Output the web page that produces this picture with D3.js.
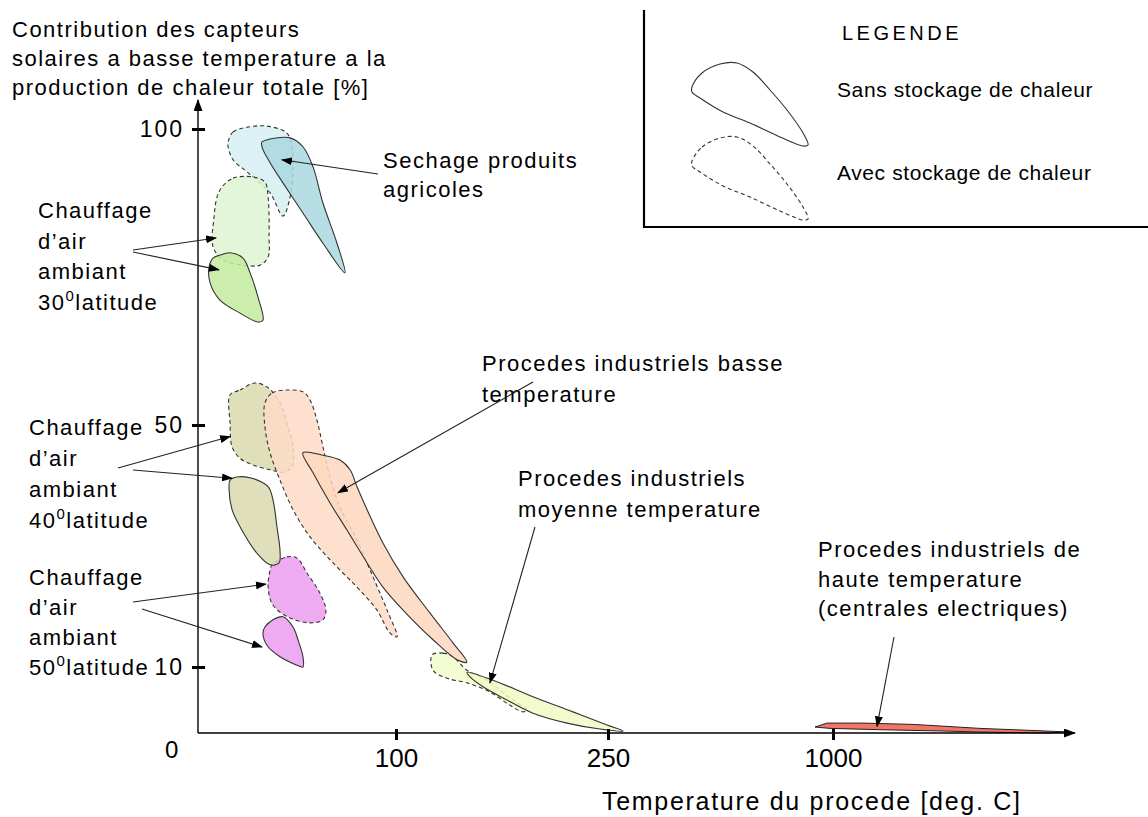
<!DOCTYPE html>
<html>
<head>
<meta charset="utf-8">
<script src="https://cdn.jsdelivr.net/npm/d3@7"></script>
<style>
    body { margin: 0; background: #fff; }
    text { font-family: "Liberation Sans", Arial, sans-serif; fill: #000; }
</style>
</head>
<body>
<div id="chart"></div>
<script>
var svgWidth = 1148;
var svgHeight = 817;

// the axes are not linear: every segment between breaks has its own stretch
var xBreaks = [0, 100, 250, 1000, 2000];
var yBreaks = [0, 10, 50, 100, 105];
var xTicks = [100, 250, 1000];
var yTicks = [10, 50, 100];

// zones: [temperature deg C, contribution %]
var sechageAvec = [[15.2,97.8],[17.7,99.5],[24.7,100.3],[34.8,100.5],[44.9,99.3],[47.5,97.0],[48.0,93.1],[46.5,88.5],[42.9,85.3],[36.4,89.2],[25.3,92.6],[17.7,94.8],[15.2,97.0]];
var sechageSans = [[32.3,97.8],[36.4,98.3],[46.5,98.5],[53.0,97.0],[58.1,93.6],[63.1,87.5],[70.2,80.7],[74.2,75.7],[63.1,80.7],[53.0,85.8],[42.9,90.9],[36.4,94.3],[32.3,97.0]];
var air30Avec = [[12.1,90.2],[17.7,91.7],[27.8,91.9],[33.8,91.0],[35.4,88.5],[35.9,81.8],[35.4,78.4],[31.3,77.0],[22.7,77.0],[12.6,77.9],[7.6,80.1],[8.1,85.1],[9.6,88.5]];
var air30Sans = [[11.1,78.7],[16.2,79.1],[22.7,78.2],[26.3,75.7],[30.3,71.6],[32.8,67.7],[30.3,67.4],[21.2,68.9],[11.1,71.1],[6.1,74.0],[5.6,76.7],[7.6,78.2]];
var air40Avec = [[16.2,55.1],[21.2,55.9],[28.8,57.1],[35.4,56.3],[41.4,53.7],[45.5,49.7],[48.0,46.4],[47.5,43.1],[42.9,42.2],[36.4,42.6],[27.8,43.4],[21.2,44.5],[17.2,46.4],[16.2,50.3]];
var air40Sans = [[16.2,40.9],[19.7,41.4],[27.3,41.2],[35.4,39.8],[37.9,37.6],[39.9,33.1],[41.4,29.3],[40.9,27.2],[36.4,26.9],[29.8,28.8],[22.2,32.6],[17.2,36.0],[15.7,39.3]];
var air50Avec = [[37.4,26.9],[44.9,28.2],[50.0,28.0],[55.1,25.5],[61.6,22.2],[64.6,19.4],[63.1,17.8],[56.6,17.3],[46.5,18.1],[37.9,20.2],[35.4,23.2],[36.4,26.0]];
var air50Sans = [[33.8,16.6],[37.9,17.8],[42.9,18.3],[48.0,16.6],[50.5,14.5],[53.0,11.7],[53.0,10.0],[50.0,10.3],[41.4,11.7],[34.8,13.6],[32.8,15.6]];
var basseAvec = [[33.8,53.7],[37.4,55.4],[44.9,55.9],[53.0,55.6],[56.6,54.2],[60.1,50.8],[63.1,46.4],[66.7,41.4],[71.7,36.4],[80.3,31.0],[88.4,24.9],[95.5,19.4],[100.7,15.0],[97.0,15.6],[90.4,19.4],[80.3,23.2],[68.2,27.2],[56.6,31.5],[48.0,36.0],[41.4,40.9],[36.4,45.4],[33.8,49.7]];
var basseSans = [[53.0,45.4],[63.1,45.0],[71.7,44.2],[76.8,42.6],[80.3,39.8],[85.4,36.0],[93.4,30.5],[105.0,24.9],[124.1,18.9],[140.3,14.0],[150.2,10.8],[143.2,11.2],[126.2,14.5],[105.0,19.4],[93.4,23.2],[85.4,27.2],[75.3,32.6],[66.7,37.1],[58.1,42.1]];
var moyenneAvec = [[125.5,12.0],[133.3,12.3],[140.3,11.7],[150.2,9.5],[164.4,8.0],[180.7,5.3],[192.7,3.5],[189.9,3.2],[180.7,4.2],[166.5,6.2],[150.2,7.6],[136.1,8.3],[126.2,9.5]];
var moyenneSans = [[150.2,9.2],[168.6,8.0],[196.9,5.5],[225.2,3.2],[249.3,1.2],[300,0.3],[244.3,0.6],[221.0,1.5],[196.9,3.0],[178.5,5.0],[161.6,7.0],[152.4,8.5]];
var hauteSans = [[940,0.9],[980,1.5],[1124,1.5],[1331,1.3],[1471,1.0],[1607,0.7],[1744,0.5],[1979,0.15],[1884,0],[1607,0.15],[1455,0.3],[1194,0.5],[990,0.7]];

var svg = d3.select("#chart")
    .append("svg")
    .attr("width", svgWidth)
    .attr("height", svgHeight);

var x = d3.scaleLinear().domain(xBreaks).range([198, 396, 608, 833, 1075]);
var y = d3.scaleLinear().domain(yBreaks).range([733, 667, 425, 129, 100]);

var defs = svg.append("defs");
defs.append("marker")
    .attr("id", "arrow")
    .attr("markerUnits", "userSpaceOnUse")
    .attr("markerWidth", 11).attr("markerHeight", 8)
    .attr("refX", 10).attr("refY", 4)
    .attr("orient", "auto")
    .append("path").attr("d", "M0,0L11,4L0,8Z").attr("fill", "#000");
defs.append("marker")
    .attr("id", "axisArrow")
    .attr("markerUnits", "userSpaceOnUse")
    .attr("markerWidth", 12).attr("markerHeight", 9)
    .attr("refX", 11).attr("refY", 4.5)
    .attr("orient", "auto")
    .append("path").attr("d", "M0,0L12,4.5L0,9Z").attr("fill", "#000");

// zones, dashed (with storage) drawn under the solid ones
var zones = [
    { pts: sechageAvec, fill: "#d6eef1", dash: true },
    { pts: air30Avec, fill: "#dff5d2", dash: true },
    { pts: air40Avec, fill: "#d9d9ae", dash: true },
    { pts: air50Avec, fill: "#ec9cf0", dash: true },
    { pts: basseAvec, fill: "#fddcc5", dash: true },
    { pts: moyenneAvec, fill: "#f2fbc9", dash: true },
    { pts: sechageSans, fill: "#a9d8df", dash: false },
    { pts: air30Sans, fill: "#c3eb9e", dash: false },
    { pts: air40Sans, fill: "#d9d9b0", dash: false },
    { pts: air50Sans, fill: "#ec9cf0", dash: false },
    { pts: basseSans, fill: "#fdd7bd", dash: false },
    { pts: moyenneSans, fill: "#f0fac3", dash: false }
];

var zoneLine = d3.line()
    .x(d => x(d[0]))
    .y(d => y(d[1]))
    .curve(d3.curveCatmullRomClosed.alpha(0.5));

svg.append("g").selectAll("path")
    .data(zones)
    .enter()
    .append("path")
    .attr("d", d => zoneLine(d.pts))
    .attr("fill", d => d.fill)
    .attr("fill-opacity", 0.85)
    .attr("stroke", "#333")
    .attr("stroke-width", 1.1)
    .attr("stroke-dasharray", d => d.dash ? "4,3" : null);

// high temperature band is jagged, keep straight segments
svg.append("path")
    .attr("d", d3.line().x(d => x(d[0])).y(d => y(d[1])).curve(d3.curveLinearClosed)(hauteSans))
    .attr("fill", "#f27666")
    .attr("stroke", "#222")
    .attr("stroke-width", 1);

// axes
svg.append("line")
    .attr("x1", x(0)).attr("y1", y(0))
    .attr("x2", x(0)).attr("y2", y(105))
    .attr("stroke", "#000").attr("stroke-width", 1.4)
    .attr("marker-end", "url(#axisArrow)");
svg.append("line")
    .attr("x1", x(0)).attr("y1", y(0))
    .attr("x2", x(2000)).attr("y2", y(0))
    .attr("stroke", "#000").attr("stroke-width", 1.4)
    .attr("marker-end", "url(#axisArrow)");

var yAxisG = svg.append("g")
    .attr("transform", `translate(${x(0)},0)`)
    .call(d3.axisLeft(y).tickValues(yTicks).tickFormat(d3.format("d")).tickSize(6).tickPadding(8));
yAxisG.select(".domain").remove();
yAxisG.selectAll(".tick line").attr("x1", 7).attr("stroke-width", 3);
yAxisG.selectAll(".tick text").attr("font-size", 23).style("letter-spacing", "2px");

var xAxisG = svg.append("g")
    .attr("transform", `translate(0,${y(0)})`)
    .call(d3.axisBottom(x).tickValues(xTicks).tickFormat(d3.format("d")).tickSize(7).tickPadding(9));
xAxisG.select(".domain").remove();
xAxisG.selectAll(".tick line").attr("y1", -4).attr("stroke-width", 3);
xAxisG.selectAll(".tick text").attr("font-size", 26);

svg.append("text")
    .attr("x", x(0) - 33).attr("y", y(0) + 25)
    .attr("font-size", 24)
    .text("0");

// axis titles
var yTitle = ["Contribution des capteurs", "solaires a basse temperature a la", "production de chaleur totale [%]"];
svg.append("g").selectAll("text")
    .data(yTitle)
    .enter()
    .append("text")
    .attr("x", 12)
    .attr("y", (d, i) => 37 + i * 29)
    .attr("font-size", 22)
    .style("letter-spacing", "1.5px")
    .text(d => d);

svg.append("text")
    .attr("x", 602).attr("y", 810)
    .attr("font-size", 25)
    .style("letter-spacing", "1.7px")
    .text("Temperature du procede [deg. C]");

// callouts: label position in px, arrow tips in data units
var callouts = [
    { lines: ["Sechage produits", "agricoles"], x: 383, y: 168, lh: 29,
      arrows: [{ from: [378, 174], to: [42.4, 94.8] }] },
    { lines: ["Chauffage", "d\u2019air", "ambiant", "30^0latitude"], x: 38, y: 218, lh: 30.7,
      arrows: [{ from: [133, 250], to: [9.1, 81.6] }, { from: [133, 252], to: [10.6, 76.2] }] },
    { lines: ["Chauffage", "d\u2019air", "ambiant", "40^0latitude"], x: 29, y: 435, lh: 31,
      arrows: [{ from: [118, 468], to: [16.2, 48.1] }, { from: [133, 470], to: [17.2, 41.2] }] },
    { lines: ["Chauffage", "d\u2019air", "ambiant", "50^0latitude"], x: 29, y: 585, lh: 30,
      arrows: [{ from: [133, 602], to: [34.3, 23.7] }, { from: [142, 609], to: [32.3, 13.3] }] },
    { lines: ["Procedes industriels basse", "temperature"], x: 482, y: 371, lh: 31,
      arrows: [{ from: [533, 382], to: [70.7, 38.8] }] },
    { lines: ["Procedes industriels", "moyenne temperature"], x: 518, y: 486, lh: 31,
      arrows: [{ from: [535, 527], to: [166.5, 7.6] }] },
    { lines: ["Procedes industriels de", "haute temperature", "(centrales electriques)"], x: 818, y: 557, lh: 29.5,
      arrows: [{ from: [894, 637], to: [1182, 1.0] }] }
];

callouts.forEach(function (c) {
    c.lines.forEach(function (line, i) {
        var t = svg.append("text")
            .attr("x", c.x)
            .attr("y", c.y + i * c.lh)
            .attr("font-size", 22)
            .style("letter-spacing", "1.5px");
        var parts = line.split("^0");
        if (parts.length > 1) {
            t.append("tspan").text(parts[0]);
            t.append("tspan").attr("font-size", 15).attr("dy", -9).text("0");
            t.append("tspan").attr("dy", 9).text(parts[1]);
        } else {
            t.text(line);
        }
    });
    c.arrows.forEach(function (a) {
        svg.append("line")
            .attr("x1", a.from[0]).attr("y1", a.from[1])
            .attr("x2", x(a.to[0])).attr("y2", y(a.to[1]))
            .attr("stroke", "#222")
            .attr("stroke-width", 1.1)
            .attr("marker-end", "url(#arrow)");
    });
});

// legend box (left and bottom rules only)
var legend = svg.append("g");
legend.append("path")
    .attr("d", "M644,10V227H1148")
    .attr("fill", "none")
    .attr("stroke", "#000")
    .attr("stroke-width", 2.2);
legend.append("text")
    .attr("x", 842).attr("y", 40)
    .attr("font-size", 20)
    .style("letter-spacing", "3.5px")
    .text("LEGENDE");

var legendShape = d3.line().curve(d3.curveCatmullRomClosed.alpha(0.5));
var legendOutline = [[0,24],[10,10],[28,1],[45,0],[61,9],[78,27],[95,47],[111,70],[116,82],[111,83],[88,74],[58,60],[31,49],[8,35],[0,29]];
var legendItems = [
    { label: "Sans stockage de chaleur", top: 63, textY: 97, dash: null },
    { label: "Avec stockage de chaleur", top: 137, textY: 180, dash: "4,3" }
];
legendItems.forEach(function (it) {
    legend.append("path")
        .attr("transform", `translate(692,${it.top})`)
        .attr("d", legendShape(legendOutline))
        .attr("fill", "none")
        .attr("stroke", "#333")
        .attr("stroke-width", 1.1)
        .attr("stroke-dasharray", it.dash);
    legend.append("text")
        .attr("x", 837).attr("y", it.textY)
        .attr("font-size", 21)
        .style("letter-spacing", "0.6px")
        .text(it.label);
});
</script>
</body>
</html>
